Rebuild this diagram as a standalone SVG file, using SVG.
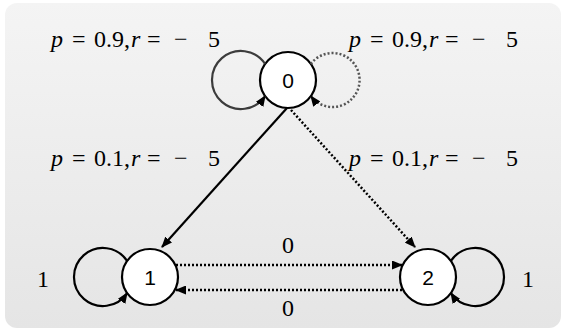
<svg xmlns="http://www.w3.org/2000/svg" width="563" height="332" viewBox="0 0 563 332">
<style>
.node{fill:#fff;stroke:#000;stroke-width:2.2}
.nl{font-family:"Liberation Sans",Arial,sans-serif;font-size:21px;text-anchor:middle;fill:#000}
.t{font-family:"Liberation Serif","Times New Roman",serif;font-size:24px;fill:#000}
.i{font-style:italic}
.e{fill:none;stroke:#000;stroke-width:2.2}
.d{stroke-dasharray:2 2;stroke-width:2.5}
.g{stroke:#3c3c3c}
.gd{stroke:#555}
</style>
<defs>
<linearGradient id="bg" x1="0" y1="0" x2="0" y2="1">
<stop offset="0" stop-color="#f4f4f4"/>
<stop offset="1" stop-color="#e5e5e5"/>
</linearGradient>
<marker id="ah" markerUnits="userSpaceOnUse" markerWidth="11" markerHeight="9" refX="10" refY="4.5" orient="auto">
<path d="M0,0 L11,4.5 L0,9 z" fill="#000"/>
</marker>
</defs>
<rect x="5" y="3" width="556" height="325" rx="12" fill="url(#bg)"/>

<g id="node0"><circle class="node" cx="288" cy="80" r="28"/><text class="nl" x="288" y="87.5">0</text></g>
<g id="node1"><circle class="node" cx="150" cy="277" r="28"/><text class="nl" x="150" y="284.5">1</text></g>
<g id="node2"><circle class="node" cx="428" cy="277" r="28"/><text class="nl" x="428" y="284.5">2</text></g>

<g id="connectors">
<path class="e g" d="M265.1,63.9 A29,29 0 1 0 265.1,96.1" marker-end="url(#ah)"/>
<path class="e d gd" d="M310.9,63.9 A27,27 0 1 1 310.9,96.1" marker-end="url(#ah)"/>
<path class="e" d="M127.1,260.9 A29,29 0 1 0 127.1,293.1" marker-end="url(#ah)"/>
<path class="e" d="M450.9,260.9 A29,29 0 1 1 450.9,293.1" marker-end="url(#ah)"/>
<line class="e" x1="287" y1="108" x2="162" y2="247" marker-end="url(#ah)"/>
<line class="e d" x1="291" y1="110" x2="415" y2="247" marker-end="url(#ah)"/>
<line class="e d" x1="176" y1="265" x2="402" y2="265" marker-end="url(#ah)"/>
<line class="e d" x1="402" y1="290" x2="176" y2="290" marker-end="url(#ah)"/>
</g>

<g id="labels">
<text class="t" y="47"><tspan class="i" x="51">p</tspan><tspan x="72">=</tspan><tspan x="94">0.9,</tspan><tspan class="i" x="131">r</tspan><tspan x="147">=</tspan><tspan x="174">−</tspan><tspan x="208">5</tspan></text>
<text class="t" y="47"><tspan class="i" x="349">p</tspan><tspan x="370">=</tspan><tspan x="392">0.9,</tspan><tspan class="i" x="429">r</tspan><tspan x="445">=</tspan><tspan x="472">−</tspan><tspan x="506">5</tspan></text>
<text class="t" y="166"><tspan class="i" x="51">p</tspan><tspan x="72">=</tspan><tspan x="94">0.1,</tspan><tspan class="i" x="131">r</tspan><tspan x="147">=</tspan><tspan x="174">−</tspan><tspan x="208">5</tspan></text>
<text class="t" y="166"><tspan class="i" x="349">p</tspan><tspan x="370">=</tspan><tspan x="392">0.1,</tspan><tspan class="i" x="429">r</tspan><tspan x="445">=</tspan><tspan x="472">−</tspan><tspan x="506">5</tspan></text>
<text class="t" x="288" y="253" text-anchor="middle">0</text>
<text class="t" x="288" y="316" text-anchor="middle">0</text>
<text class="t" x="43" y="287" text-anchor="middle">1</text>
<text class="t" x="528" y="287" text-anchor="middle">1</text>
</g>
</svg>
